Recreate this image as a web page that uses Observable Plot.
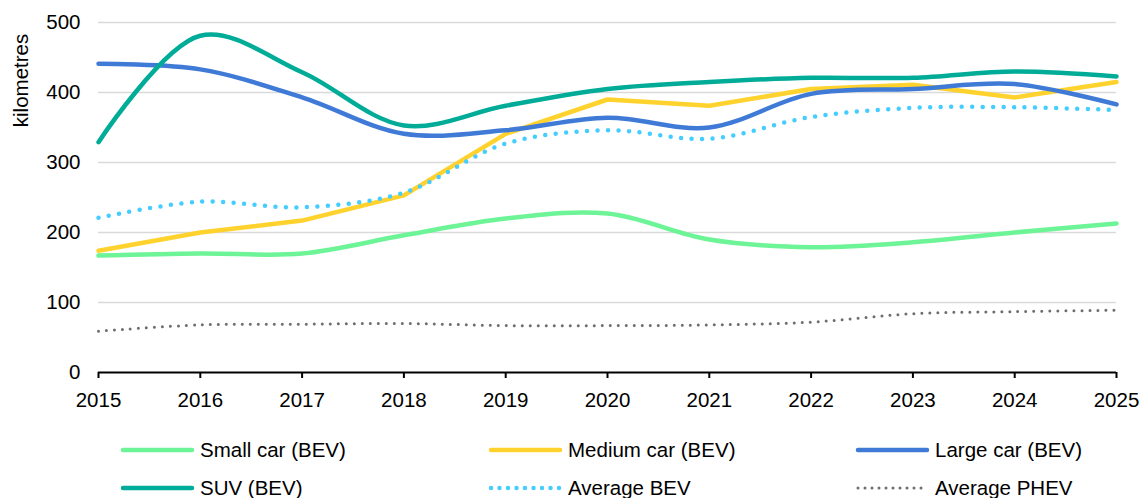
<!DOCTYPE html>
<html>
<head>
<meta charset="utf-8">
<script src="https://cdn.jsdelivr.net/npm/d3@7"></script>
<script src="https://cdn.jsdelivr.net/npm/@observablehq/plot@0.6"></script>
<style>
  html, body { margin: 0; padding: 0; background: #fff; }
  body { width: 1144px; height: 498px; position: relative; overflow: hidden; font-family: "Liberation Sans", Arial, sans-serif; }
  #chart { position: absolute; left: 0; top: 0; }
  .leg { position: absolute; display: flex; align-items: center; font-size: 20.5px; color: #000; white-space: nowrap; }
  .leg svg { margin-right: 4px; }
</style>
</head>
<body>
<div id="chart"></div>
<div id="legend"></div>
<script>
const years = [2015, 2016, 2017, 2018, 2019, 2020, 2021, 2022, 2023, 2024, 2025];
const smallCar = [167, 170, 170, 196, 220, 227, 190, 179, 186, 200, 213];
const mediumCar = [174, 200, 217, 253, 341, 390, 381, 405, 411, 393, 415];
const largeCar = [441, 433, 393, 341, 346, 364, 350, 398, 405, 412, 383];
const suv = [329, 481, 429, 353, 381, 405, 415, 421, 421, 430, 423];
const averageBev = [221, 244, 236, 257, 327, 346, 334, 365, 378, 379, 375];
const averagePhev = [59, 68, 69, 70, 67, 67, 68, 72, 84, 87, 89];
const yTicks = [0, 100, 200, 300, 400, 500];

const seriesNames = ["Small car (BEV)", "Medium car (BEV)", "Large car (BEV)", "SUV (BEV)", "Average BEV", "Average PHEV"];
const seriesValues = [smallCar, mediumCar, largeCar, suv, averageBev, averagePhev];
const styles = {
  "Small car (BEV)": {stroke: "#6CF496", width: 4.5, dash: null, curve: "catmull-rom"},
  "Medium car (BEV)": {stroke: "#FFD22E", width: 4.5, dash: null, curve: "linear"},
  "Large car (BEV)": {stroke: "#3F7BD6", width: 4.5, dash: null, curve: "catmull-rom"},
  "SUV (BEV)": {stroke: "#00AC98", width: 4.5, dash: null, curve: "catmull-rom"},
  "Average BEV": {stroke: "#45CDFF", width: 4.5, dash: "0 10.5", curve: "catmull-rom"},
  "Average PHEV": {stroke: "#6E6E6E", width: 3, dash: "0 8", curve: "catmull-rom"}
};

const rows = [];
seriesNames.forEach((name, i) => years.forEach((y, j) => rows.push({series: name, year: y, value: seriesValues[i][j]})));

const lineMarks = seriesNames.map(name => {
  const s = styles[name];
  return Plot.line(rows.filter(d => d.series === name), {
    x: "year", y: "value", stroke: s.stroke, strokeWidth: s.width,
    strokeDasharray: s.dash || undefined, strokeLinecap: "round", strokeLinejoin: "round",
    curve: s.curve
  });
});

const chart = Plot.plot({
  width: 1144,
  height: 415,
  marginLeft: 98,
  marginRight: 28,
  marginTop: 22,
  marginBottom: 43,
  style: {fontFamily: "Liberation Sans, Arial, sans-serif", fontSize: "20.5px", color: "#000", background: "#fff"},
  x: {domain: [2015, 2025], ticks: years, tickFormat: d => String(d), label: null},
  y: {domain: [0, 500], ticks: yTicks, label: null},
  marks: [
    Plot.ruleY(yTicks.filter(t => t > 0), {stroke: "#d9d9d9", strokeWidth: 1.6}),
    Plot.axisY({ticks: yTicks, tickSize: 0, tickPadding: 18, fontSize: 20.5, label: null}),
    Plot.axisX({ticks: years, tickFormat: d => String(d), tickSize: 6, tickPadding: 14, fontSize: 20.5, label: null, stroke: "#000", strokeWidth: 2}),
    ...lineMarks,
    Plot.ruleY([0], {stroke: "#000", strokeWidth: 2}),
    Plot.text(["kilometres"], {frameAnchor: "top-left", textAnchor: "middle", lineAnchor: "middle", dx: -77, dy: 58, rotate: -90, fontSize: 20.5, fill: "#000"})
  ]
});
document.getElementById("chart").appendChild(chart);

// Legend below the chart
const legendPos = [
  [120, 450], [488, 450], [855, 450],
  [120, 488], [488, 488], [855, 488]
];
const legend = document.getElementById("legend");
seriesNames.forEach((name, i) => {
  const s = styles[name];
  const div = document.createElement("div");
  div.className = "leg";
  div.style.left = legendPos[i][0] + "px";
  div.style.top = (legendPos[i][1] - 13) + "px";
  div.style.height = "26px";
  const sw = `<svg width="76" height="10"><line x1="3" y1="5" x2="72" y2="5" stroke="${s.stroke}" stroke-width="${s.width}" stroke-linecap="round" ${s.dash ? `stroke-dasharray="${name === 'Average BEV' ? '0 8.5' : '0 7'}"` : ""}/></svg>`;
  div.innerHTML = sw + `<span>${name}</span>`;
  legend.appendChild(div);
});
</script>
</body>
</html>
